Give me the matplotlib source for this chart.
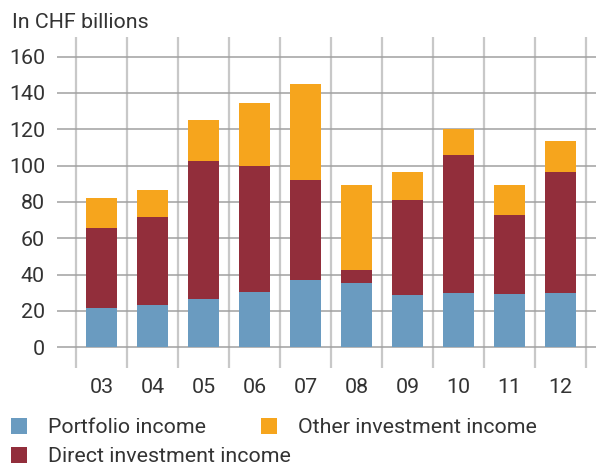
import matplotlib
matplotlib.use("Agg")
import matplotlib.pyplot as plt
import numpy as np
from matplotlib.patches import Rectangle

# Investment income by type, in CHF billions
years = ["03", "04", "05", "06", "07", "08", "09", "10", "11", "12"]
portfolio = [21.7, 23.4, 26.7, 30.5, 37.1, 35.5, 28.9, 30.0, 29.4, 30.0]
direct = [44.1, 48.5, 76.1, 69.5, 55.2, 7.2, 52.4, 75.6, 43.6, 66.7]
other = [16.6, 14.9, 22.6, 34.3, 52.4, 46.9, 15.4, 14.5, 16.6, 17.1]
yticks = [0, 20, 40, 60, 80, 100, 120, 140, 160]

c_port = "#6a9bc0"
c_direct = "#922e3b"
c_other = "#f6a51d"
txt = "#333333"
fs = 15.4

plt.rcParams["font.family"] = ["Roboto", "DejaVu Sans"]
plt.rcParams["font.weight"] = "normal"

W, H = 596, 463
fig = plt.figure(figsize=(W / 100, H / 100), dpi=100)
ax = fig.add_axes([56.7 / W, (H - 368.3) / H, (W - 56.7) / W, (368.3 - 36.7) / H])

x = np.arange(len(years))
ax.set_xlim(-0.878, 9.70)
ax.set_ylim(-11.6, 171.0)

# grid: light vertical separators between years, darker horizontal lines
for b in np.arange(-0.5, len(years), 1.0):
    ax.axvline(b, color="#c8c8c8", lw=1.6, zorder=0.5)
for t in yticks:
    ax.axhline(t, color="#a0a0a0", lw=1.1, zorder=1)

p = np.array(portfolio)
d = np.array(direct)
o = np.array(other)
ax.bar(x, p, width=0.6, color=c_port, zorder=2)
ax.bar(x, d, width=0.6, bottom=p, color=c_direct, zorder=2)
ax.bar(x, o, width=0.6, bottom=p + d, color=c_other, zorder=2)

for s in ax.spines.values():
    s.set_visible(False)
ax.set_yticks(yticks)
ax.set_yticklabels([str(t) for t in yticks])
ax.set_xticks(x)
ax.set_xticklabels(years)
ax.tick_params(axis="y", length=0, pad=8.4, labelsize=fs, labelcolor=txt)
ax.tick_params(axis="x", length=0, pad=7.0, labelsize=fs, labelcolor=txt)

fig.text(12 / W, 1 - 27.8 / H, "In CHF billions", fontsize=fs, color=txt,
         va="baseline", ha="left")

# legend
items = [(11, 418, c_port, "Portfolio income"),
         (261, 418, c_other, "Other investment income"),
         (11, 447, c_direct, "Direct investment income")]
for lx, ly, col, lab in items:
    fig.add_artist(Rectangle((lx / W, 1 - (ly + 16) / H), 16 / W, 16 / H,
                             transform=fig.transFigure, color=col, lw=0))
    fig.text((lx + 37) / W, 1 - (ly + 15) / H, lab, fontsize=fs, color=txt,
             va="baseline", ha="left")

fig.savefig("out.png", dpi=100)
